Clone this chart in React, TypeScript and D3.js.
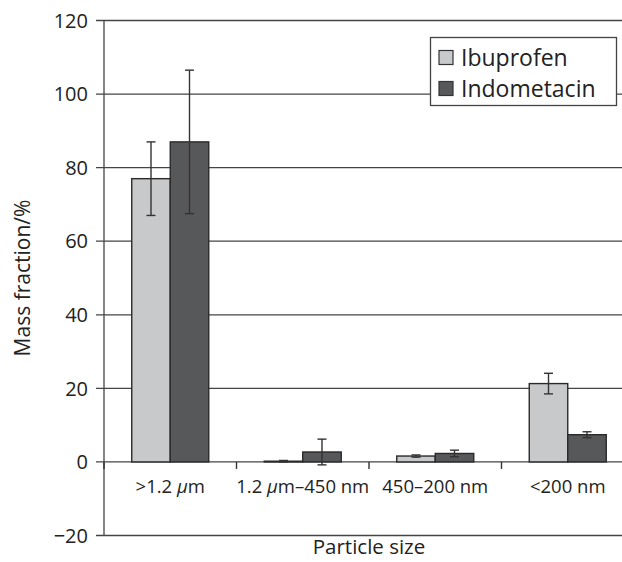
import React from 'react';
import * as d3 from 'd3';

const categories = ['>1.2 µm', '1.2 µm–450 nm', '450–200 nm', '<200 nm'];
const seriesNames = ['Ibuprofen', 'Indometacin'];
const ibuprofen = [77, 0.2, 1.6, 21.3];
const ibuprofenErr = [10, 0.2, 0.3, 2.8];
const indometacin = [87, 2.7, 2.3, 7.4];
const indometacinErr = [19.5, 3.5, 0.9, 0.8];
const yTicks = [-20, 0, 20, 40, 60, 80, 100, 120];

const colors = ['#c8c9cb', '#57585a'];
const font = '"Open Sans", sans-serif';

// label parts: [text, italic]
const labelParts: [string, boolean][][] = [
  [['>1.2 ', false], ['µ', true], ['m', false]],
  [['1.2 ', false], ['µ', true], ['m–450 nm', false]],
  [['450–200 nm', false]],
  [['<200 nm', false]],
];

const App = () => {
  const width = 622;
  const height = 562;
  const left = 104;
  const right = 634;
  const top = 20.5;
  const bottom = 535.5;

  const x = d3.scaleBand().domain(categories).range([left, right]).paddingInner(0).paddingOuter(0);
  const inner = d3.scaleBand().domain(seriesNames).range([0, 77]);
  const groupOffset = (x.bandwidth() - 77) / 2;
  const y = d3.scaleLinear().domain([-20, 120]).range([bottom, top]);

  const series = [
    { name: seriesNames[0], values: ibuprofen, errs: ibuprofenErr, color: colors[0] },
    { name: seriesNames[1], values: indometacin, errs: indometacinErr, color: colors[1] },
  ];

  return (
    <svg
      width={width}
      height={height}
      style={{ position: 'absolute', left: 0, top: 0, background: '#fff' }}
      fontFamily={font}
    >
      {/* gridlines */}
      {yTicks.map((t) => (
        <line key={t} x1={left - 8} x2={right} y1={y(t)} y2={y(t)} stroke="#444" strokeWidth={1.3} />
      ))}
      {/* y axis */}
      <line x1={left} x2={left} y1={top} y2={bottom} stroke="#444" strokeWidth={1.3} />
      {yTicks.map((t) => (
        <text key={t} x={left - 16} y={y(t)} dy="0.36em" textAnchor="end" fontSize={20} fill="#222">
          {t < 0 ? '\u2212' + Math.abs(t) : t}
        </text>
      ))}
      {/* category ticks */}
      {categories.map((c) => (
        <line key={c} x1={x(c)!} x2={x(c)!} y1={y(0)} y2={y(0) + 7} stroke="#333" strokeWidth={1.4} />
      ))}
      {/* bars */}
      {series.map((s) =>
        categories.map((c, i) => {
          const bx = x(c)! + groupOffset + inner(s.name)!;
          const bw = inner.bandwidth();
          const cx = bx + bw / 2;
          return (
            <g key={s.name + c}>
              <rect
                x={bx}
                width={bw}
                y={y(s.values[i])}
                height={y(0) - y(s.values[i])}
                fill={s.color}
                stroke="#2a2a2a"
                strokeWidth={1.4}
              />
              <line x1={cx} x2={cx} y1={y(s.values[i] + s.errs[i])} y2={y(s.values[i] - s.errs[i])} stroke="#333" strokeWidth={1.4} />
              <line x1={cx - 4.5} x2={cx + 4.5} y1={y(s.values[i] + s.errs[i])} y2={y(s.values[i] + s.errs[i])} stroke="#333" strokeWidth={1.4} />
              <line x1={cx - 4.5} x2={cx + 4.5} y1={y(s.values[i] - s.errs[i])} y2={y(s.values[i] - s.errs[i])} stroke="#333" strokeWidth={1.4} />
            </g>
          );
        })
      )}
      {/* category labels */}
      {categories.map((c, i) => (
        <text key={c} x={x(c)! + x.bandwidth() / 2} y={493} textAnchor="middle" fontSize={18.5} fill="#222">
          {labelParts[i].map(([t, it], j) => (
            <tspan key={j} fontStyle={it ? 'italic' : 'normal'}>{t}</tspan>
          ))}
        </text>
      ))}
      {/* axis titles */}
      <text x={(left + right) / 2} y={554} textAnchor="middle" fontSize={20.5} fill="#222">Particle size</text>
      <text transform={`translate(30,${(top + bottom) / 2}) rotate(-90)`} textAnchor="middle" fontSize={21} fill="#222">
        Mass fraction/%
      </text>
      {/* legend */}
      <rect x={430.5} y={37.5} width={186} height={68} fill="#fff" stroke="#444" strokeWidth={1.3} />
      {series.map((s, i) => (
        <g key={s.name} transform={`translate(439,${50.5 + i * 31})`}>
          <rect width={14} height={14} fill={s.color} stroke="#333" strokeWidth={1.2} />
          <text x={22} y={7} dy="0.36em" fontSize={23} fill="#222">{s.name}</text>
        </g>
      ))}
    </svg>
  );
};

export default App;
